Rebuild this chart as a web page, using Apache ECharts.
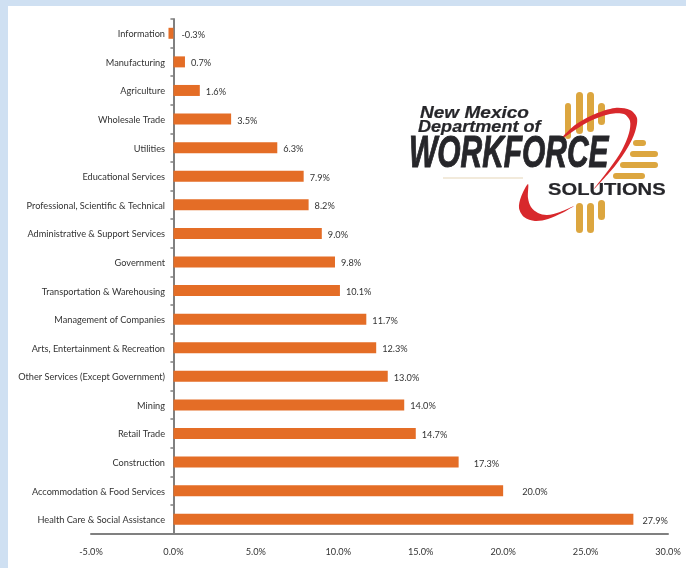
<!DOCTYPE html>
<html>
<head>
<meta charset="utf-8">
<title>Industry growth</title>
<style>
html, body { margin: 0; padding: 0; background: #cfe0f2; }
#chart { width: 686px; height: 568px; }
</style>
<script src="https://cdn.jsdelivr.net/npm/echarts@6/dist/echarts.min.js"></script>
</head>
<body>
<div id="chart"></div>
<script>
var industries = [
  'Information', 'Manufacturing', 'Agriculture', 'Wholesale Trade', 'Utilities',
  'Educational Services', 'Professional, Scientific & Technical',
  'Administrative & Support Services', 'Government', 'Transportation & Warehousing',
  'Management of Companies', 'Arts, Entertainment & Recreation',
  'Other Services (Except Government)', 'Mining', 'Retail Trade', 'Construction',
  'Accommodation & Food Services', 'Health Care & Social Assistance'
];
var growth = [-0.3, 0.7, 1.6, 3.5, 6.3, 7.9, 8.2, 9.0, 9.8, 10.1, 11.7, 12.3, 13.0, 14.0, 14.7, 17.3, 20.0, 27.9];
// the source chart has a few labels pushed further out
var labelGaps = [8, 6, 6, 6, 6, 6, 6, 6, 6, 6, 6, 6, 6, 6, 6, 15, 19, 9];

var FONT = 'Lato';
var LOGO_FONT = '"Liberation Sans"';
var GOLD = '#dca63f';
var RED = '#d8282c';
var INK = '#26262a';

// logo is a decoration, drawn with plain shapes and real text
function ray(x, y, w, h) {
  return {
    type: 'rect',
    shape: { x: x, y: y, width: w, height: h, r: Math.min(w, h) / 2 },
    style: { fill: GOLD },
    z: 10
  };
}

function swoosh(points) {
  return {
    type: 'polygon',
    shape: { points: points, smooth: 0.3 },
    style: { fill: RED },
    z: 11
  };
}

function logoText(text, x, y, size, scaleX, italic, weight) {
  return {
    type: 'text',
    x: x,
    y: y,
    scaleX: scaleX,
    style: {
      text: text,
      fill: INK,
      stroke: INK,
      lineWidth: weight,
      font: (italic ? 'italic ' : '') + 'bold ' + size + 'px ' + LOGO_FONT,
      textAlign: 'left',
      textVerticalAlign: 'bottom'
    },
    z: 12
  };
}

var logo = [
  ray(565, 103, 6, 36), ray(576, 92, 7, 42), ray(587, 92, 7, 40), ray(598, 103, 7, 22),
  ray(633, 140, 13, 6), ray(630, 151, 28, 6), ray(620, 162, 38, 6), ray(613, 173, 32, 6),
  ray(576, 203, 7, 30), ray(587, 203, 7, 30), ray(598, 200, 7, 20),
  {
    type: 'rect',
    shape: { x: 443, y: 177.5, width: 80, height: 1 },
    style: { fill: '#e6d6b8' },
    z: 10
  },
  swoosh([[560, 140], [575, 125], [595, 114], [615, 108], [630, 110], [637, 118], [635, 132], [628, 147],
    [615, 166], [594, 189], [610, 168], [622, 150], [629, 133], [630, 121], [624, 114], [610, 114],
    [590, 121], [575, 130]]),
  swoosh([[528, 184], [521, 197], [519, 208], [524, 217], [535, 221], [548, 219], [562, 213], [574, 206],
    [560, 212], [547, 215], [538, 213], [531, 207], [528, 198]]),
  logoText('New Mexico', 420, 122, 17, 1.12, true, 0.2),
  logoText('Department of', 418, 136, 16, 1.13, true, 0.2),
  logoText('WORKFORCE', 409, 177, 45, 0.665, true, 1),
  logoText('SOLUTIONS', 548, 199, 16, 1.26, false, 0.2)
];

var myChart = echarts.init(document.getElementById('chart'));
var option = {
  animation: false,
  backgroundColor: '#cfe0f2',
  textStyle: { fontFamily: FONT },
  graphic: [{
    type: 'rect',
    shape: { x: 8, y: 6, width: 678, height: 562 },
    style: { fill: '#ffffff' },
    silent: true,
    z: -10
  }].concat(logo),
  grid: { left: 91, right: 18, top: 19, height: 514.5, outerBoundsMode: 'none' },
  xAxis: {
    type: 'value',
    min: -5,
    max: 30,
    interval: 5,
    splitLine: { show: false },
    axisTick: { show: false },
    axisLine: { show: true, lineStyle: { color: '#808080', width: 2 } },
    axisLabel: {
      color: '#333333',
      fontSize: 9.2,
      margin: 14,
      fontFamily: FONT,
      formatter: function (val) { return val.toFixed(1) + '%'; }
    }
  },
  yAxis: {
    type: 'category',
    inverse: true,
    data: industries,
    axisLine: { show: true, lineStyle: { color: '#808080', width: 2 } },
    axisTick: { show: true, length: 3, lineStyle: { color: '#808080', width: 1.5 } },
    // labels sit at the grid edge, pull them over to the zero line
    axisLabel: {
      color: '#333333',
      fontSize: 9.2,
      margin: -74,
      verticalAlign: 'top',
      lineHeight: 2,
      fontFamily: FONT,
      interval: 0
    }
  },
  series: [{
    type: 'bar',
    barWidth: 11,
    itemStyle: { color: '#e46d26' },
    data: growth.map(function (v, i) {
      return {
        value: v,
        label: { distance: labelGaps[i] }
      };
    }),
    label: {
      show: true,
      position: 'right',
      color: '#333333',
      fontSize: 9.2,
      offset: [0, 1.5],
      fontFamily: FONT,
      formatter: function (params) { return params.value.toFixed(1) + '%'; }
    }
  }]
};
myChart.setOption(option);
</script>
</body>
</html>
